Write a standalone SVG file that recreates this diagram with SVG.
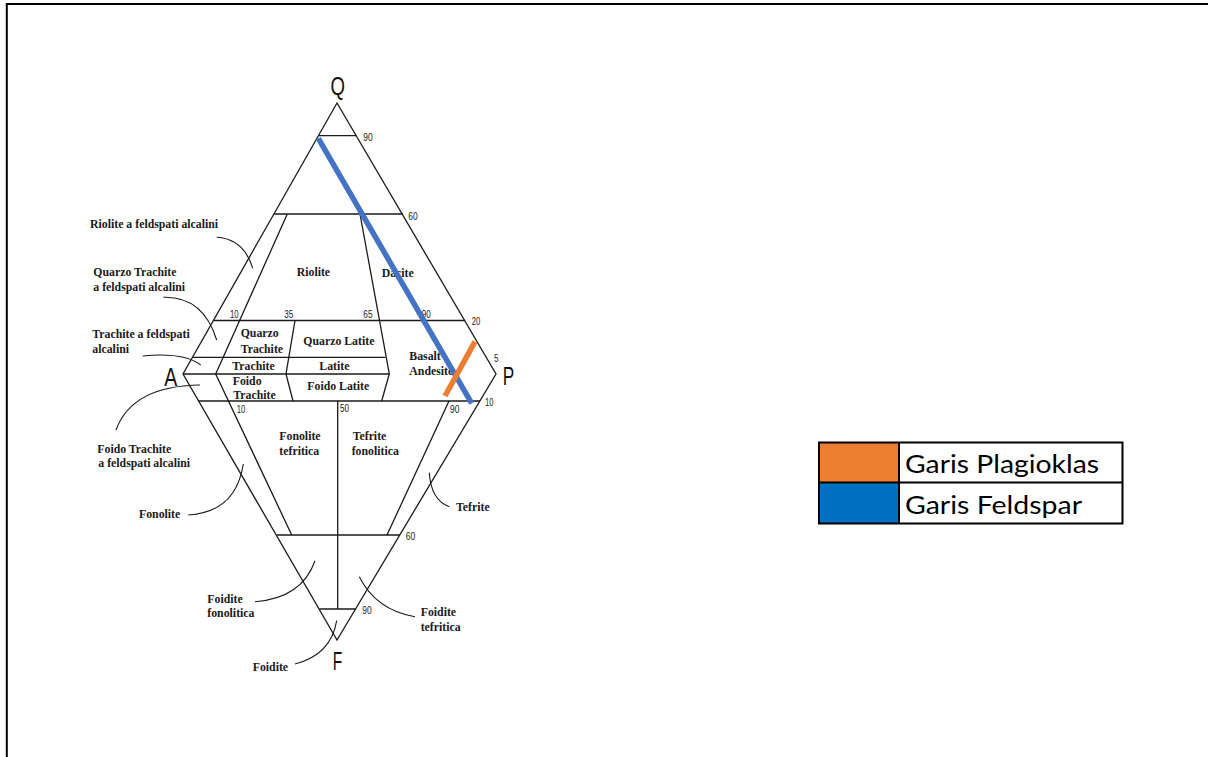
<svg xmlns="http://www.w3.org/2000/svg" width="1208" height="757" viewBox="0 0 1208 757">
<style>
.ln{fill:none;stroke:#1a1a1a;stroke-width:1.3}
.ld{fill:none;stroke:#1a1a1a;stroke-width:1.1}
.fl{font-family:"Liberation Serif","Times New Roman",serif;font-weight:bold;font-size:11.8px;fill:#1a1a1a}
.nm{font-family:"Liberation Sans",Arial,sans-serif;font-size:10.5px;fill:#222}
.vx{font-family:"Liberation Sans",Arial,sans-serif;font-size:25px;fill:#111}
.lg{font-family:Lato,"Open Sans",sans-serif;font-size:25px;fill:#000}
</style>
<rect width="1208" height="757" fill="#fff"/>
<g id="frame"><path d="M6.8,757 V4 H1208" fill="none" stroke="#000" stroke-width="2"/></g>
<g id="diagram-lines" class="connectors">
<path class="ln" d="M337,103 L183,374 L337,640 L496,374 Z"/>
<path class="ln" d="M318.5,135.7 H356.5"/>
<path class="ln" d="M274,214 H403"/>
<path class="ln" d="M213.5,320.5 H465"/>
<path class="ln" d="M193,357.3 H385.5"/>
<path class="ln" d="M183,374 H389.3"/>
<path class="ln" d="M198.6,401 H480"/>
<path class="ln" d="M276.5,535 H400"/>
<path class="ln" d="M319.3,609 H356"/>
<path class="ln" d="M287.3,214 L215.7,374 L291.7,535"/>
<path class="ln" d="M295,320.5 L286,374 L293,401"/>
<path class="ln" d="M360,214 L389.3,374 L381.7,401"/>
<path class="ln" d="M449,401 L387,535"/>
<path class="ln" d="M337.7,401 V609"/>
</g>
<g id="leaders" class="connectors">
<path class="ld" d="M216.7,237.3 Q244,239 252.7,268.3"/>
<path class="ld" d="M163.3,297.3 Q203,296 216.7,340"/>
<path class="ld" d="M142.7,356 Q184,352 200.7,365"/>
<path class="ld" d="M200,385 Q132,386 116,430"/>
<path class="ld" d="M188.3,515 Q236,512 243.3,464"/>
<path class="ld" d="M449.3,506.7 Q431,500 429.3,472.7"/>
<path class="ld" d="M255,601.7 Q302,598 315,560.7"/>
<path class="ld" d="M415,616.7 Q376,610 359.3,576.7"/>
<path class="ld" d="M295,664 Q331,655 336.7,620.7"/>
</g>
<g id="vertex-labels">
<text class="vx" x="330.5" y="95" textLength="14.5" lengthAdjust="spacingAndGlyphs">Q</text>
<text class="vx" x="164.3" y="385.7" textLength="13" lengthAdjust="spacingAndGlyphs">A</text>
<text class="vx" x="502.7" y="385" textLength="11.5" lengthAdjust="spacingAndGlyphs">P</text>
<text class="vx" x="332.7" y="670" textLength="9.5" lengthAdjust="spacingAndGlyphs">F</text>
</g>
<g id="numbers">
<text class="nm" x="363.3" y="141" textLength="9.4" lengthAdjust="spacingAndGlyphs">90</text>
<text class="nm" x="408.3" y="220" textLength="9.4" lengthAdjust="spacingAndGlyphs">60</text>
<text class="nm" x="230" y="318" textLength="8.5" lengthAdjust="spacingAndGlyphs">10</text>
<text class="nm" x="284.3" y="318" textLength="9" lengthAdjust="spacingAndGlyphs">35</text>
<text class="nm" x="363.3" y="318" textLength="9.4" lengthAdjust="spacingAndGlyphs">65</text>
<text class="nm" x="421.7" y="318" textLength="9" lengthAdjust="spacingAndGlyphs">90</text>
<text class="nm" x="471.7" y="325" textLength="8.5" lengthAdjust="spacingAndGlyphs">20</text>
<text class="nm" x="494" y="361.7" textLength="4.5" lengthAdjust="spacingAndGlyphs">5</text>
<text class="nm" x="485" y="406" textLength="8.5" lengthAdjust="spacingAndGlyphs">10</text>
<text class="nm" x="236.7" y="412.7" textLength="8.5" lengthAdjust="spacingAndGlyphs">10</text>
<text class="nm" x="340" y="412" textLength="9" lengthAdjust="spacingAndGlyphs">50</text>
<text class="nm" x="450" y="413" textLength="9.4" lengthAdjust="spacingAndGlyphs">90</text>
<text class="nm" x="405.7" y="539.5" textLength="9.4" lengthAdjust="spacingAndGlyphs">60</text>
<text class="nm" x="362.3" y="613.5" textLength="9.4" lengthAdjust="spacingAndGlyphs">90</text>
</g>
<g id="field-labels">
<text class="fl" x="296.7" y="276">Riolite</text>
<text class="fl" x="381.7" y="276.7">Dacite</text>
<text class="fl" x="240.7" y="336.5">Quarzo</text>
<text class="fl" x="240.7" y="352.7">Trachite</text>
<text class="fl" x="303.3" y="345">Quarzo Latite</text>
<text class="fl" x="232.3" y="370">Trachite</text>
<text class="fl" x="319.3" y="370">Latite</text>
<text class="fl" x="232.7" y="385">Foido</text>
<text class="fl" x="233.3" y="399">Trachite</text>
<text class="fl" x="307.3" y="390">Foido Latite</text>
<text class="fl" x="409.3" y="360">Basalt</text>
<text class="fl" x="409.3" y="375">Andesite</text>
<text class="fl" x="279.3" y="440">Fonolite</text>
<text class="fl" x="279.3" y="455">tefritica</text>
<text class="fl" x="352.7" y="440">Tefrite</text>
<text class="fl" x="351.7" y="455">fonolitica</text>
</g>
<g id="outer-labels">
<text class="fl" x="90" y="228.3">Riolite a feldspati alcalini</text>
<text class="fl" x="93.3" y="276">Quarzo Trachite</text>
<text class="fl" x="93.3" y="291">a feldspati alcalini</text>
<text class="fl" x="92.3" y="338.3">Trachite a feldspati</text>
<text class="fl" x="92.3" y="352.5">alcalini</text>
<text class="fl" x="97.3" y="452.7">Foido Trachite</text>
<text class="fl" x="98.3" y="467">a feldspati alcalini</text>
<text class="fl" x="139" y="518.3">Fonolite</text>
<text class="fl" x="456" y="510.7">Tefrite</text>
<text class="fl" x="207.3" y="602.7">Foidite</text>
<text class="fl" x="207.3" y="617">fonolitica</text>
<text class="fl" x="420.7" y="616">Foidite</text>
<text class="fl" x="420.7" y="631">tefritica</text>
<text class="fl" x="252.7" y="671">Foidite</text>
</g>
<g id="feldspar-line"><path d="M318.3,138.3 L471.7,403.3" stroke="#4472C4" stroke-width="5.5" fill="none"/></g>
<g id="plagioclase-line"><path d="M475,341.7 L445,396" stroke="#ED7D31" stroke-width="5.5" fill="none"/></g>
<g id="legend">
<rect x="819" y="442.5" width="80" height="40" fill="#ED7D31"/>
<rect x="819" y="482.5" width="80" height="41" fill="#0070C0"/>
<rect x="819" y="442.5" width="303.5" height="81" fill="none" stroke="#000" stroke-width="2"/>
<path d="M899,442.5 V523.5 M819,482.5 H1122.5" stroke="#000" stroke-width="2" fill="none"/>
<text class="lg" x="905" y="473.3" textLength="194" lengthAdjust="spacingAndGlyphs">Garis Plagioklas</text>
<text class="lg" x="905" y="514" textLength="177" lengthAdjust="spacingAndGlyphs">Garis Feldspar</text>
</g>
</svg>
